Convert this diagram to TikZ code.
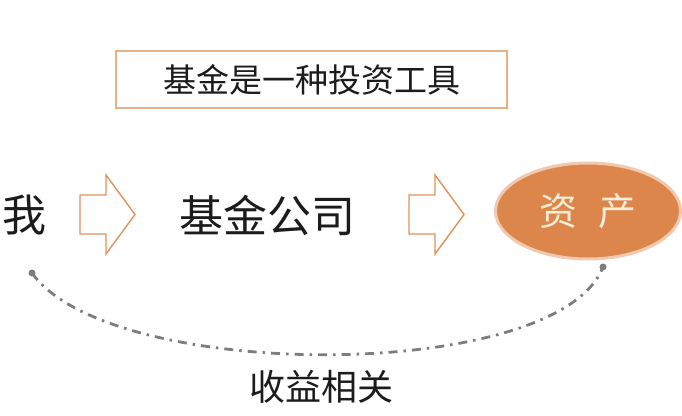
\documentclass[tikz,border=0pt]{standalone}
\usepackage{fontspec}
\setmainfont{Noto Sans CJK SC}
\usetikzlibrary{shapes.geometric, positioning}

\definecolor{fundorange}{RGB}{221,134,76}
\definecolor{boxline}{RGB}{228,178,138}
\definecolor{linkgray}{RGB}{125,125,125}
\definecolor{inktext}{RGB}{28,28,28}
\definecolor{cream}{RGB}{250,236,214}

\tikzset{
  tag/.style={draw=boxline, line width=1.3pt, fill=white, minimum width=391pt, minimum height=57pt, font=\fontsize{33}{36}\selectfont, text=inktext},
  word/.style={font=\fontsize{44}{48}\selectfont, text=inktext, inner sep=0pt},
  assetball/.style={ellipse, fill=fundorange, draw=fundorange!45, line width=3pt, minimum width=185pt, minimum height=96pt, text=cream, font=\fontsize{38}{42}\selectfont},
  link/.style={linkgray, line width=2.8pt, dash pattern=on 9pt off 6pt on 2.5pt off 6pt},
  blockarrow/.pic={
    \draw[fundorange!90, line width=1.4pt, line join=miter, fill=white]
      (0,-19.5) -- (26,-19.5) -- (26,-39.5) -- (55,0) -- (26,39.5) -- (26,19.5) -- (0,19.5) -- cycle;
  }
}

\begin{document}
\begin{tikzpicture}[x=1pt, y=-1pt]
        \useasboundingbox (0,0) rectangle (682,415);

        \node[tag] (tool) at (311.5,79.5) {基金是一种投资工具};

        \node[word] (me) at (24,215) {我};
        \node[word] (company) at (267,215) {基金公司};
        \node[assetball] (asset) at (588,211) {资\hspace{0.55em}产};

        \pic at (80,214.5) {blockarrow};
        \pic at (409,214.5) {blockarrow};

        \coordinate (medot) at (32,273);
        \coordinate (assetdot) at (603,267);
        \fill[linkgray] (medot) circle (3.5pt) (assetdot) circle (3.5pt);

          \draw[link] (medot) .. controls (110,383) and (558,383) .. (assetdot);

        \node[word, font=\fontsize{36}{40}\selectfont] (gain) at (321,387) {收益相关};
    \end{tikzpicture}
\end{document}
